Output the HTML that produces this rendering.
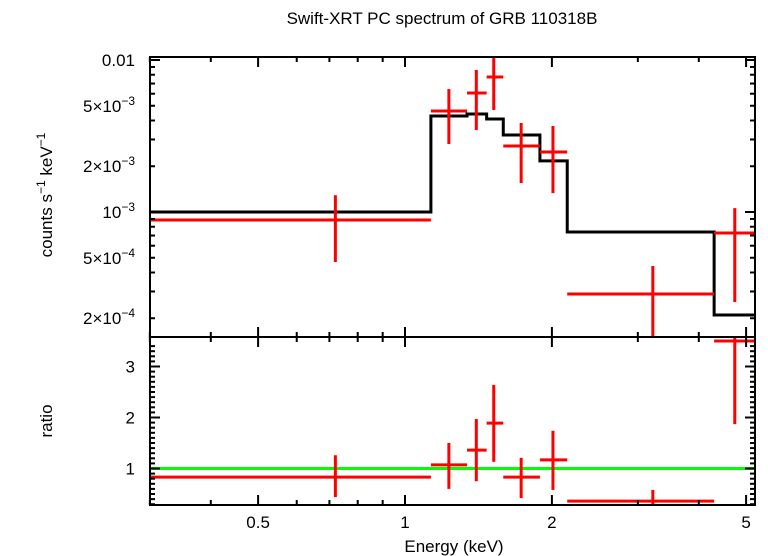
<!DOCTYPE html>
<html><head><meta charset="utf-8"><style>
body{margin:0;background:#fff}
svg{display:block;font-family:"Liberation Sans",sans-serif}
</style></head><body>
<svg id="c" width="768" height="556"></svg>
<script>
const binLo=[0.30,1.13,1.34,1.47,1.59,1.89,2.15,4.30];
const binHi=[1.13,1.34,1.47,1.59,1.89,2.15,4.30,5.21];
const energy=[0.72,1.23,1.40,1.52,1.73,2.01,3.22,4.74];
const rate=[8.86e-4,4.62e-3,6.07e-3,7.73e-3,2.72e-3,2.48e-3,2.89e-4,7.28e-4];
const rateHi=[1.29e-3,6.44e-3,8.6e-3,1.11e-2,3.85e-3,3.68e-3,4.41e-4,1.06e-3];
const rateLo=[4.69e-4,2.80e-3,3.46e-3,4.69e-3,1.55e-3,1.33e-3,1.3e-4,2.56e-4];
const modelLo=[0.30,1.13,1.34,1.47,1.59,1.89,2.15,4.30];
const modelHi=[1.13,1.34,1.47,1.59,1.89,2.15,4.30,5.21];
const model=[1.0e-3,4.28e-3,4.41e-3,4.09e-3,3.21e-3,2.17e-3,7.38e-4,2.10e-4];
const ratio=[0.83,1.07,1.36,1.89,0.83,1.17,0.36,3.5];
const ratioHi=[1.26,1.50,1.97,2.64,1.21,1.74,0.58,4.3];
const ratioLo=[0.44,0.60,0.75,1.13,0.42,0.58,0.1,1.87];
const xTicks=[0.5,1,2,5];
const xTickLabels=["0.5","1","2","5"];
const yTicks=[0.01,5e-3,2e-3,1e-3,5e-4,2e-4];
const yTickMant=["0.01","5×10","2×10","10","5×10","2×10"];
const yTickExp=["","−3","−3","−3","−4","−4"];
const rTicks=[1,2,3];

const L=150,R=755,T1=57,B1=337,T2=337,B2=505;
const X=e=>405+488*Math.log10(e);
const Y=v=>60+152*Math.log10(0.01/v);
const YR=v=>468.5-51*(v-1);
const svg=document.getElementById('c');
const NS='http://www.w3.org/2000/svg';
function el(tag,attrs,parent){const e=document.createElementNS(NS,tag);for(const k in attrs)e.setAttribute(k,attrs[k]);(parent||svg).appendChild(e);return e;}
function ln(x1,y1,x2,y2,col,w,g){return el('line',{x1,y1,x2,y2,stroke:col,'stroke-width':w},g);}

const defs=el('defs',{});
const c1=el('clipPath',{id:'cp1'},defs);el('rect',{x:L,y:T1,width:R-L,height:B1-T1},c1);
const c2=el('clipPath',{id:'cp2'},defs);el('rect',{x:L,y:T2,width:R-L,height:B2-T2},c2);

const title=el('text',{x:442,y:24,'font-size':17,'text-anchor':'middle'});
title.textContent='Swift-XRT PC spectrum of GRB 110318B';



const g1=el('g',{'clip-path':'url(#cp1)'});


let d='';
for(let i=0;i<model.length;i++){d+=(i?'L':'M')+X(modelLo[i])+','+Y(model[i])+'L'+X(modelHi[i])+','+Y(model[i]);}
const mp=el('path',{d,fill:'none',stroke:'#000','stroke-width':3},g1);


for(let i=0;i<rate.length;i++){
  const g=el('g',{},g1);
  
  
  ln(X(binLo[i]),Y(rate[i]),X(binHi[i]),Y(rate[i]),'#f00',3,g);
  ln(X(energy[i]),Y(rateHi[i]),X(energy[i]),Y(rateLo[i]),'#f00',3,g);
}
const g2=el('g',{'clip-path':'url(#cp2)'});


const gl=ln(L,YR(1),R,YR(1),'#0f0',3,g2);


for(let i=0;i<ratio.length;i++){
  const g=el('g',{},g2);
  
  
  ln(X(binLo[i]),YR(ratio[i]),X(binHi[i]),YR(ratio[i]),'#f00',3,g);
  ln(X(energy[i]),YR(ratioHi[i]),X(energy[i]),YR(ratioLo[i]),'#f00',3,g);
}
const f1=el('rect',{x:L,y:T1,width:R-L,height:B1-T1,fill:'none',stroke:'#000','stroke-width':2});

const f2=el('rect',{x:L,y:T2,width:R-L,height:B2-T2,fill:'none',stroke:'#000','stroke-width':2});

const minors=[0.3,0.4,0.6,0.7,0.8,0.9,3,4];
[[T1,1],[B1,-1],[T2,1],[B2,-1]].forEach(([y,s])=>{
  xTicks.forEach(v=>ln(X(v),y,X(v),y+s*10,'#000',2));
  minors.forEach(v=>ln(X(v),y,X(v),y+s*5,'#000',2));
});
xTicks.forEach((v,i)=>{const t=el('text',{x:X(v),y:528,'font-size':17,'text-anchor':'middle'});t.textContent=xTickLabels[i];
});
for(let dec=-4;dec<=-2;dec++)for(let m=1;m<=9;m++){const v=m*Math.pow(10,dec);const y=Y(v);if(y<T1-0.5||y>B1)continue;
  const len=(m==1)?10:5;ln(L,y,L+len,y,'#000',2);ln(R,y,R-len,y,'#000',2);}
yTicks.forEach((v,i)=>{const t=el('text',{x:135,y:Y(v)+6,'font-size':17,'text-anchor':'end'});
  if(yTickExp[i]) t.innerHTML=yTickMant[i]+'<tspan dy="-7" font-size="12">'+yTickExp[i]+'</tspan>';
  else t.textContent=yTickMant[i];
});
for(let v=0.3;v<=3.5;v+=0.1){const y=YR(v);if(y<T2||y>B2)continue;const maj=Math.abs(v-Math.round(v))<0.01;
  const len=maj?10:5;ln(L,y,L+len,y,'#000',2);ln(R,y,R-len,y,'#000',2);}
rTicks.forEach(v=>{const t=el('text',{x:135,y:YR(v)+6,'font-size':17,'text-anchor':'end'});t.textContent=v;
});
const xt=el('text',{x:454,y:552,'font-size':17,'text-anchor':'middle'});xt.textContent='Energy (keV)';

const yt=el('text',{x:0,y:0,'font-size':17,'text-anchor':'middle',transform:'translate(52,195) rotate(-90)'});
yt.innerHTML='counts s<tspan dy="-7" font-size="12">−1</tspan><tspan dy="7"> keV</tspan><tspan dy="-7" font-size="12">−1</tspan>';

const rt=el('text',{x:0,y:0,'font-size':17,'text-anchor':'middle',transform:'translate(52,421) rotate(-90)'});rt.textContent='ratio';

</script>
</body></html>
